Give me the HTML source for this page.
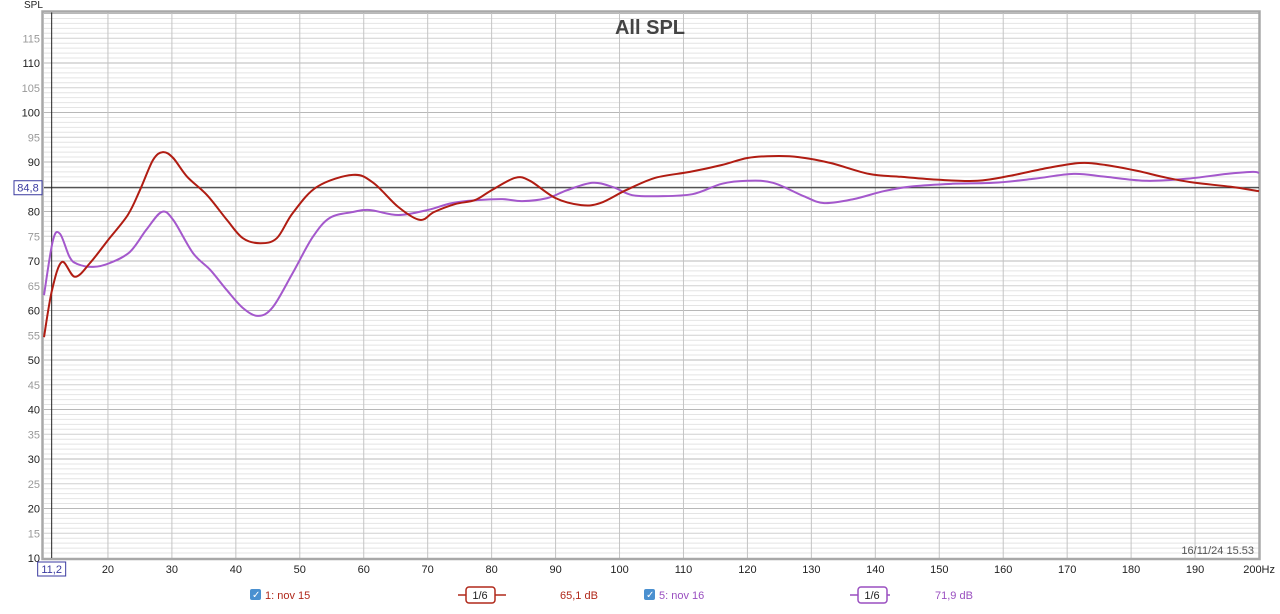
<!DOCTYPE html>
<html><head><meta charset="utf-8"><style>
html,body{margin:0;padding:0;background:#fff;}
body{width:1280px;height:609px;overflow:hidden;font-family:"Liberation Sans",sans-serif;}
text{font-family:"Liberation Sans",sans-serif;}
</style></head><body>
<svg id="chart" width="1280" height="609" viewBox="0 0 1280 609" xmlns="http://www.w3.org/2000/svg">
<g id="grid"></g>
<g id="axes"></g>
<g id="series"></g>
<text x="650" y="34" text-anchor="middle" font-size="20" font-weight="bold" fill="#444">All SPL</text>
<text x="24" y="8" font-size="10" fill="#222">SPL</text>
<text x="1254" y="554" text-anchor="end" font-size="11" fill="#555">16/11/24 15.53</text>
<g>
 <rect x="250" y="589" width="11" height="11" rx="2" fill="#4a90d0"/>
 <text x="252" y="598" font-size="10" fill="#fff">✓</text>
 <text x="265" y="599" font-size="11" fill="#b0281a">1: nov 15</text>
 <line x1="458" y1="595" x2="506" y2="595" stroke="#b0281a" stroke-width="1.5"/>
 <rect x="466" y="587" width="29" height="16" rx="3" fill="#fff" stroke="#b0281a" stroke-width="1.5"/>
 <text x="480" y="599" text-anchor="middle" font-size="11" fill="#222">1/6</text>
 <text x="560" y="599" font-size="11" fill="#b0281a">65,1 dB</text>
 <rect x="644" y="589" width="11" height="11" rx="2" fill="#4a90d0"/>
 <text x="646" y="598" font-size="10" fill="#fff">✓</text>
 <text x="659" y="599" font-size="11" fill="#9a4fc0">5: nov 16</text>
 <line x1="850" y1="595" x2="890" y2="595" stroke="#9a4fc0" stroke-width="1.5"/>
 <rect x="858" y="587" width="29" height="16" rx="3" fill="#fff" stroke="#9a4fc0" stroke-width="1.5"/>
 <text x="872" y="599" text-anchor="middle" font-size="11" fill="#222">1/6</text>
 <text x="935" y="599" font-size="11" fill="#9a4fc0">71,9 dB</text>
</g>
</svg>
<script>
const yTicks=[10,15,20,25,30,35,40,45,50,55,60,65,70,75,80,85,90,95,100,105,110,115];
const xTicks=[20,30,40,50,60,70,80,90,100,110,120,130,140,150,160,170,180,190];
const redHz=[10,11.25,12.8,14.85,17.2,20,23.1,25,27.05,28.6,30.2,32.4,35.5,38.6,41.1,43.8,46.4,48.9,52.7,58.3,61.5,65.4,68.8,71,74.3,77.4,80,83.7,86,90,94,97,101,105.6,111,116,120,124,128,133,139,144,150,156,161,167,172,176,181,185.6,190,195.6,200];
const redDb=[54.6,64.1,69.8,66.8,69.6,74.2,79.3,84.3,90.4,92.0,90.8,87.0,83.3,78.3,74.6,73.6,74.6,79.7,85.0,87.4,85.8,80.9,78.3,79.9,81.5,82.3,84.3,86.8,86.2,82.7,81.3,81.7,84.3,86.8,88.0,89.4,90.8,91.2,91.0,89.8,87.6,87.0,86.4,86.2,87.2,88.8,89.8,89.4,88.2,86.8,85.8,85.0,84.1];
const purpleHz=[10,11.4,12.5,14,15.2,17.7,20.3,23.4,26,28.4,30.2,33.3,36,38.6,41.1,43.5,45.8,48.9,52,54.7,58.3,60.9,65.4,70,73.8,77.7,81.7,84.8,88.7,91.8,95.8,99,102,106,111.4,116,120,124,128.8,132,136.6,141.3,146,152,158.5,164.8,171,176,182.4,188.6,195,199,200];
const purpleDb=[63.1,74.2,75.5,70.8,69.4,68.8,69.6,71.8,76.3,79.9,78.3,71.6,68.2,64.1,60.5,58.9,60.7,67.6,74.8,78.7,79.9,80.3,79.3,80.3,81.7,82.3,82.5,82.1,82.7,84.3,85.8,84.9,83.3,83.1,83.5,85.6,86.2,85.8,83.1,81.7,82.5,84.1,85.1,85.6,85.8,86.6,87.6,87.0,86.2,86.6,87.6,88.0,87.8];
const refLevel=84.8, cursorHz=11.2;
const NS="http://www.w3.org/2000/svg";
const X0=44,X1=1259,Y0=558,PPD=4.95;
const xs=f=>X0+(f-10)*(X1-X0)/190;
const ys=v=>Y0-(v-10)*PPD;
const TOP=ys(120.2);
function mk(tag,attrs,parent){const e=document.createElementNS(NS,tag);for(const k in attrs)e.setAttribute(k,attrs[k]);parent.appendChild(e);return e;}
const grid=document.getElementById('grid'),axes=document.getElementById('axes'),series=document.getElementById('series');
mk('rect',{x:X0,y:TOP,width:X1-X0,height:Y0-TOP,fill:'#fff'},grid);
for(let v=11;v<=120;v++){if(v%5===0)continue;const l=mk('line',{x1:X0,x2:X1,y1:ys(v),y2:ys(v),stroke:'#e4e4e4','stroke-width':1},grid);}
for(let v=15;v<=120;v+=5){const l=mk('line',{x1:X0,x2:X1,y1:ys(v),y2:ys(v),stroke:v%10===0?'#b8b8b8':'#d0d0d0','stroke-width':1},grid);}
xTicks.forEach(f=>{const l=mk('line',{x1:xs(f),x2:xs(f),y1:TOP,y2:Y0,stroke:'#c4c4c4','stroke-width':1},grid);});
mk('rect',{x:X0-1.5,y:TOP-1,width:X1-X0+2,height:Y0-TOP+2,fill:'none',stroke:'#a8a8a8','stroke-width':2.5},axes);
yTicks.forEach(v=>{const t=mk('text',{x:40,y:ys(v)+4,'text-anchor':'end','font-size':11,fill:v%10===0?'#222':'#999'},axes);t.textContent=v;});
xTicks.forEach(f=>{const t=mk('text',{x:xs(f),y:573,'text-anchor':'middle','font-size':11,fill:'#222'},axes);t.textContent=f;});
const t200=mk('text',{x:1275,y:573,'text-anchor':'end','font-size':11,fill:'#222'},axes);t200.textContent='200Hz';


const rl=mk('line',{x1:X0,x2:X1,y1:ys(refLevel),y2:ys(refLevel),stroke:'#222','stroke-width':1},axes);


const rb=mk('rect',{x:14,y:ys(refLevel)-7,width:28,height:14,fill:'#fff',stroke:'#3a3aa0','stroke-width':1},axes);


const rt=mk('text',{x:28,y:ys(refLevel)+4,'text-anchor':'middle','font-size':11,fill:'#3a3aa0'},axes);rt.textContent=refLevel.toFixed(1).replace('.',',');
const cl=mk('line',{x1:xs(cursorHz),x2:xs(cursorHz),y1:TOP,y2:Y0,stroke:'#222','stroke-width':1},axes);


const cb=mk('rect',{x:xs(cursorHz)-14,y:562,width:28,height:14,fill:'#fff',stroke:'#3a3aa0','stroke-width':1},axes);


const ct=mk('text',{x:xs(cursorHz),y:573,'text-anchor':'middle','font-size':11,fill:'#3a3aa0'},axes);ct.textContent=String(cursorHz).replace('.',',');
function pathFor(hz,db){const p=hz.map((f,i)=>[xs(f),ys(db[i])]);let d='M'+p[0][0].toFixed(1)+','+p[0][1].toFixed(1);
for(let i=0;i<p.length-1;i++){const a=p[Math.max(i-1,0)],b=p[i],c=p[i+1],e=p[Math.min(i+2,p.length-1)];
const c1=[b[0]+(c[0]-a[0])/6,b[1]+(c[1]-a[1])/6],c2=[c[0]-(e[0]-b[0])/6,c[1]-(e[1]-b[1])/6];
d+=' C'+c1[0].toFixed(1)+','+c1[1].toFixed(1)+' '+c2[0].toFixed(1)+','+c2[1].toFixed(1)+' '+c[0].toFixed(1)+','+c[1].toFixed(1);}return d;}
const pp=mk('path',{d:pathFor(purpleHz,purpleDb),fill:'none',stroke:'#a458cc','stroke-width':2,'stroke-linejoin':'round'},series);


const rp=mk('path',{d:pathFor(redHz,redDb),fill:'none',stroke:'#b01c12','stroke-width':2,'stroke-linejoin':'round'},series);


</script>
</body></html>
